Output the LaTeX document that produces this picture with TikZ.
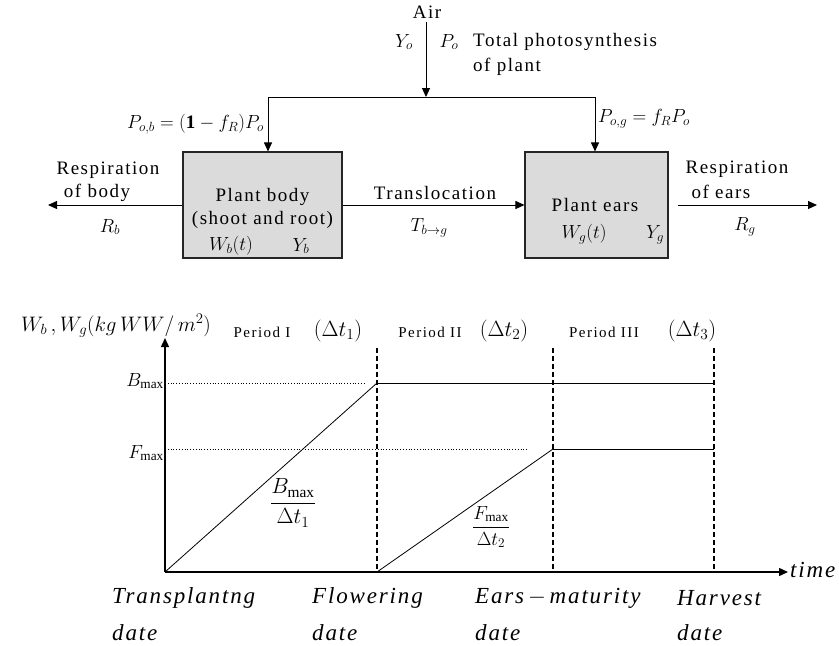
\RequirePackage{fix-cm}
\documentclass[tikz,border=0pt]{standalone}
\usepackage{fontspec}
\setmainfont{Liberation Serif}[LetterSpace=8]
\newfontfamily\perfont{Liberation Serif}[LetterSpace=10]
\usetikzlibrary{arrows.meta}
\begin{document}
\begin{tikzpicture}[x=1pt,y=-1pt,
  box/.style={draw=black!85, line width=1.1pt, fill=black!14, inner sep=0pt},
  flow/.style={line width=1pt, -{Triangle[length=9pt,width=8pt]}},
  plain/.style={line width=1pt},
  txt/.style={font=\fontsize{19}{22}\selectfont, inner sep=0pt},
  mth/.style={font=\fontsize{22}{24}\selectfont, inner sep=0pt},
  itl/.style={font=\fontsize{23}{26}\selectfont\itshape, inner sep=0pt},
  per/.style={font=\fontsize{15}{17}\perfont, inner sep=0pt},
  axis/.style={line width=1.4pt},
  slope/.style={line width=0.8pt},
  guide/.style={line width=0.8pt, dotted},
  period/.style={line width=1.1pt, dash pattern=on 5pt off 3pt}]
\useasboundingbox (0,0) rectangle (839,646);

% ---------- flow diagram ----------
\node[box, minimum width=159pt, minimum height=106pt] (body) at (262.5,205) {};
\node[box, minimum width=143pt, minimum height=106pt] (ears) at (596.5,205) {};

\node[txt] (air) at (427,12) {Air};
\coordinate (airtop) at (426,22);
\coordinate (split) at (426,97);
\coordinate (lc) at (268,97);
\coordinate (rc) at (595,97);
\draw[flow] (airtop) -- (split);
\draw[plain] (lc) -- (rc);
\draw[flow] (lc) -- (lc |- body.north);
\draw[flow] (rc) -- (rc |- ears.north);

\node[txt] (yo) at (404,42) {$Y_o$};
\node[txt] (po) at (449,42) {$P_o$};
\node[txt, anchor=west] (tot) at (473,42) {Total photosynthesis};
\node[txt, anchor=west] (ofp) at (473,67) {of plant};
\node[txt, anchor=east] (pob) at (264,124) {$P_{o,b}=\mathbf{(1}-f_R\mathbf{)}P_o$};
\node[txt, anchor=west] (pog) at (598,119) {$P_{o,g}=f_RP_o$};

\node[txt] (pb1) at (262.5,197) {Plant body};
\node[txt] (pb2) at (262.5,220) {(shoot and root)};
\node[txt] (wb) at (231,246) {$W_b\mathbf{(}t\mathbf{)}$};
\node[txt] (yb) at (301,246) {$Y_b$};

\node[txt] (pe1) at (595,205) {Plant ears};
\node[txt] (wg) at (584,234) {$W_g(t)$};
\node[txt] (yg) at (655,235) {$Y_g$};

\coordinate (rbend) at (48,205);
\draw[flow] (body.west) -- (rbend);
\node[txt] (rb1) at (108,170) {Respiration};
\node[txt] (rb2) at (97,193) {of body};
\node[txt] (rb) at (110,227) {$R_b$};

\draw[flow] (body.east) -- (ears.west);
\node[txt] (tr) at (435,193) {Translocation};
\node[txt] (tbg) at (429,228) {$T_{b\to g}$};

\coordinate (rgs) at (678,205);
\coordinate (rge) at (817,205);
\draw[flow] (rgs) -- (rge);
\node[txt] (rg1) at (737,169) {Respiration};
\node[txt] (rg2) at (721,192) {of ears};
\node[txt] (rg) at (745,227) {$R_g$};

% ---------- graph ----------
\coordinate (O) at (165,572);
\coordinate (ytop) at (165,338);
\coordinate (xend) at (788,572);
\draw[axis, -{Triangle[length=9pt,width=8pt]}] (O) -- (ytop);
\draw[axis, -{Triangle[length=9pt,width=8pt]}] (O) -- (xend);

\coordinate (f1t) at (377,348); \coordinate (f1b) at (377,572);
\coordinate (f2t) at (553,348); \coordinate (f2b) at (553,572);
\coordinate (f3t) at (714,348); \coordinate (f3b) at (714,572);
\draw[period] (f1t) -- (f1b);
\draw[period] (f2t) -- (f2b);
\draw[period] (f3t) -- (f3b);

\coordinate (by) at (165,383); \coordinate (bd) at (365,383);
\coordinate (fy) at (165,449); \coordinate (fd) at (527,449);
\draw[guide] (by) -- (bd);
\draw[guide] (fy) -- (fd);

\coordinate (bpk) at (377,383); \coordinate (bend) at (714,383);
\coordinate (fpk) at (553,449); \coordinate (fend) at (714,449);
\draw[slope] (O) -- (bpk);
\draw[plain] (bpk) -- (bend);
\draw[slope] (f1b) -- (fpk);
\draw[plain] (fpk) -- (fend);

\node[txt, anchor=east] (bmax) at (164,381) {$B_{\max}$};
\node[txt, anchor=east] (fmax) at (164,453) {$F_{\max}$};
\node[mth, font=\fontsize{21}{23}\selectfont] (ylab) at (116,326) {$W_b\,,W_g(kg\,WW/\,m^2)$};

\node[per] (p1) at (262,332) {Period I};
\node[mth] (d1) at (338,331) {$(\Delta t_1)$};
\node[per] (p2) at (430,332) {Period II};
\node[mth] (d2) at (504,331) {$(\Delta t_2)$};
\node[per] (p3) at (604,332) {Period III};
\node[mth] (d3) at (692,331) {$(\Delta t_3)$};

\node[mth] (s1) at (293,503) {$\displaystyle\frac{B_{\max}}{\Delta t_1}$};
\node[mth, font=\fontsize{19}{21}\selectfont] (s2) at (491,527) {$\displaystyle\frac{F_{\max}}{\Delta t_2}$};

\node[itl, anchor=west] (time) at (790,570) {time};
\node[itl, anchor=west] (l1a) at (112,598) {Transplantng};
\node[itl, anchor=west] (l1b) at (112,633) {date};
\node[itl, anchor=west] (l2a) at (312,598) {Flowering};
\node[itl, anchor=west] (l2b) at (312,633) {date};
\node[itl, anchor=west] (l3a) at (475,598) {Ears\,$-$\,maturity};
\node[itl, anchor=west] (l3b) at (475,633) {date};
\node[itl, anchor=west] (l4a) at (677,598) {Harvest};
\node[itl, anchor=west] (l4b) at (677,633) {date};
\end{tikzpicture}
\end{document}
